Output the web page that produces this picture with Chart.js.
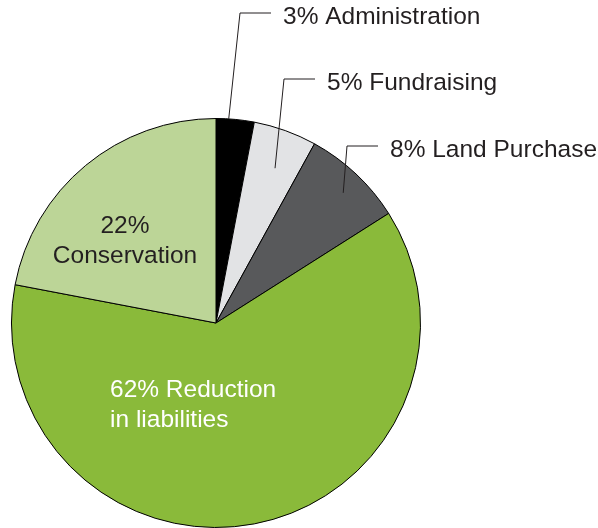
<!DOCTYPE html>
<html>
<head>
<meta charset="utf-8">
<title>Expenditure</title>
<script src="https://cdn.jsdelivr.net/npm/chart.js@4.4.1/dist/chart.umd.min.js"></script>
<style>
  html, body { margin: 0; padding: 0; background: #fff; }
  #wrap { width: 598px; height: 528px; position: relative; }
</style>
</head>
<body>
<div id="wrap"><canvas id="pie" width="598" height="528"></canvas></div>
<script>
// Slices, clockwise from 12 o'clock
const categories = ['Administration', 'Fundraising', 'Land Purchase', 'Reduction in liabilities', 'Conservation'];
const shares = [3, 5, 8, 62, 22];
const sliceColors = ['#000000', '#e2e3e5', '#58595b', '#8aba3a', '#bcd597'];

// Label text for each slice (lines)
const labelLines = [
    ['3% Administration'],
    ['5% Fundraising'],
    ['8% Land Purchase'],
    ['62% Reduction', 'in liabilities'],
    ['22%', 'Conservation']
];

// Where the labels go. Outside labels use a leader line that starts inside the slice
// (fraction along the slice angle, fraction of radius) and bends at an elbow.
const labelLayout = [
    { type: 'leader', angleFrac: 0.33, radiusFrac: 1.0, elbowX: 240, elbowY: 13 },
    { type: 'leader', angleFrac: 0.56, radiusFrac: 0.81, elbowX: 284, elbowY: 79 },
    { type: 'leader', angleFrac: 0.54, radiusFrac: 0.89, elbowX: 347, elbowY: 146 },
    { type: 'inside', x: 110, y: 397, align: 'left', color: '#ffffff' },
    { type: 'inside', x: 125, y: 233, align: 'center', color: '#231f20' }
];

const FONT = '24.5px "Liberation Sans", Arial, sans-serif';
const LINE_H = 30;

const sliceLabels = {
    id: 'sliceLabels',
    afterDatasetsDraw(chart) {
        const ctx = chart.ctx;
        const arcs = chart.getDatasetMeta(0).data;
        ctx.save();
        ctx.font = FONT;
        arcs.forEach((arc, i) => {
            const lay = labelLayout[i];
            const lines = labelLines[i];
            if (lay.type === 'leader') {
                const p = arc.getProps(['x', 'y', 'startAngle', 'endAngle', 'outerRadius'], true);
                const a = p.startAngle + (p.endAngle - p.startAngle) * lay.angleFrac;
                const r = p.outerRadius * lay.radiusFrac;
                const ax = p.x + Math.cos(a) * r;
                const ay = p.y + Math.sin(a) * r;
                ctx.strokeStyle = '#231f20';
                ctx.lineWidth = 1;
                ctx.beginPath();
                ctx.moveTo(ax, ay);
                ctx.lineTo(lay.elbowX, lay.elbowY);
                ctx.lineTo(lay.elbowX + 31, lay.elbowY);
                ctx.stroke();
                ctx.fillStyle = '#231f20';
                ctx.textAlign = 'left';
                ctx.textBaseline = 'alphabetic';
                ctx.fillText(lines[0], lay.elbowX + 43, lay.elbowY + 11);
            } else {
                ctx.fillStyle = lay.color;
                ctx.textAlign = lay.align;
                ctx.textBaseline = 'alphabetic';
                lines.forEach((t, k) => ctx.fillText(t, lay.x, lay.y + k * LINE_H));
            }
        });
        ctx.restore();
    }
};

new Chart(document.getElementById('pie'), {
    type: 'pie',
    data: {
        labels: categories,
        datasets: [{
            data: shares,
            backgroundColor: sliceColors,
            borderColor: '#000000',
            borderWidth: 1
        }]
    },
    options: {
        responsive: false,
        animation: false,
        layout: { padding: { left: 11, top: 118, right: 177, bottom: 0 } },
        plugins: {
            legend: { display: false },
            tooltip: { enabled: false }
        }
    },
    plugins: [sliceLabels]
});
</script>
</body>
</html>
